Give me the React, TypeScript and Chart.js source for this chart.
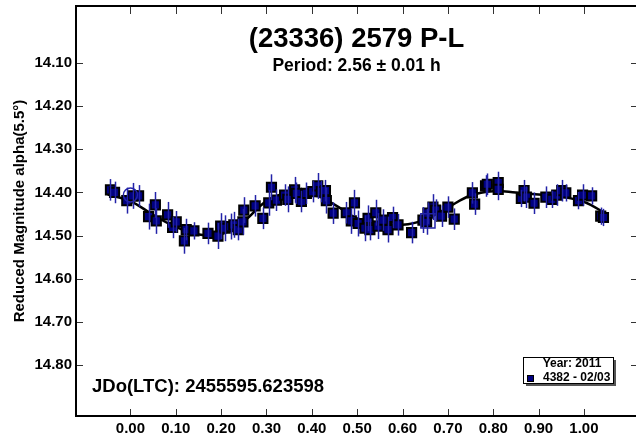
import React, { useEffect, useRef } from "react";
import { Chart, registerables } from "chart.js";

Chart.register(...registerables);

// ---- Data ----
const PHASE = [
  -0.044, -0.035, -0.008, 0.005, 0.018, 0.040, 0.055, 0.057, 0.082, 0.093,
  0.101, 0.119, 0.123, 0.140, 0.171, 0.193, 0.199, 0.209, 0.221, 0.228,
  0.238, 0.248, 0.250, 0.275, 0.292, 0.305, 0.311, 0.322, 0.340, 0.347,
  0.362, 0.366, 0.377, 0.388, 0.402, 0.413, 0.421, 0.430, 0.432, 0.447,
  0.476, 0.487, 0.494, 0.502, 0.517, 0.524, 0.528, 0.541, 0.546, 0.557,
  0.568, 0.578, 0.590, 0.620, 0.645, 0.653, 0.656, 0.667, 0.673, 0.686,
  0.700, 0.714, 0.754, 0.759, 0.783, 0.787, 0.811, 0.811, 0.862, 0.868,
  0.873, 0.890, 0.916, 0.929, 0.940, 0.951, 0.960, 0.988, 0.997, 1.017,
  1.037, 1.043,
];
const MAG = [
  14.394, 14.400, 14.419, 14.408, 14.408, 14.456, 14.429, 14.466, 14.452, 14.481,
  14.468, 14.512, 14.486, 14.489, 14.495, 14.501, 14.478, 14.483, 14.479, 14.475,
  14.486, 14.468, 14.441, 14.431, 14.460, 14.424, 14.388, 14.418, 14.406, 14.416,
  14.394, 14.402, 14.421, 14.402, 14.398, 14.385, 14.398, 14.396, 14.419, 14.448,
  14.447, 14.466, 14.424, 14.472, 14.483, 14.460, 14.486, 14.447, 14.478, 14.464,
  14.486, 14.458, 14.475, 14.493, 14.464, 14.468, 14.448, 14.434, 14.441, 14.455,
  14.434, 14.462, 14.401, 14.427, 14.385, 14.381, 14.377, 14.393, 14.414, 14.396,
  14.411, 14.425, 14.411, 14.416, 14.406, 14.396, 14.401, 14.419, 14.406, 14.408,
  14.455, 14.458,
];
const ERR = [
  0.025, 0.025, 0.030, 0.030, 0.025, 0.030, 0.030, 0.030, 0.030, 0.025,
  0.025, 0.030, 0.025, 0.020, 0.025, 0.030, 0.030, 0.030, 0.030, 0.030,
  0.025, 0.030, 0.030, 0.025, 0.025, 0.030, 0.030, 0.025, 0.025, 0.030,
  0.030, 0.025, 0.025, 0.025, 0.025, 0.030, 0.025, 0.025, 0.030, 0.025,
  0.025, 0.030, 0.030, 0.030, 0.030, 0.030, 0.025, 0.030, 0.030, 0.025,
  0.030, 0.025, 0.025, 0.025, 0.030, 0.030, 0.025, 0.030, 0.025, 0.025,
  0.025, 0.025, 0.025, 0.025, 0.025, 0.025, 0.025, 0.025, 0.020, 0.025,
  0.025, 0.025, 0.025, 0.020, 0.025, 0.025, 0.020, 0.020, 0.025, 0.020,
  0.020, 0.020,
];
const FIT_PHASE = [
  -0.05, 0.0, 0.05, 0.10, 0.15, 0.20, 0.25, 0.30, 0.35, 0.40, 0.45, 0.50,
  0.55, 0.60, 0.65, 0.70, 0.75, 0.80, 0.85, 0.90, 0.95, 1.00, 1.05,
];
const FIT_MAG = [
  14.405, 14.420, 14.452, 14.480, 14.497, 14.497, 14.467, 14.420, 14.400, 14.403,
  14.428, 14.460, 14.470, 14.475, 14.463, 14.435, 14.407, 14.397, 14.400, 14.405,
  14.410, 14.422, 14.450,
];
const MARK_PHASE = [0.0, 0.656];
const MARK_MAG = [14.406, 14.466];
const MARK_STYLE = ["circle", "rect"];

const X_TICKS = [0.0, 0.1, 0.2, 0.3, 0.4, 0.5, 0.6, 0.7, 0.8, 0.9, 1.0];
const Y_TICKS = [14.1, 14.2, 14.3, 14.4, 14.5, 14.6, 14.7, 14.8];

const TITLE = "(23336) 2579 P-L";
const SUBTITLE = "Period: 2.56 ± 0.01 h";
const JD_LABEL = "JDo(LTC): 2455595.623598";
const Y_TITLE = "Reduced Magnitude alpha(5.5°)";
const LEGEND_TITLE = "Year: 2011";
const LEGEND_ITEM = "4382 - 02/03";

const FONT = 'Arial, "Liberation Sans", Helvetica, sans-serif';

const decorPlugin = {
  id: "decor",
  afterDatasetsDraw(chart: any) {
    const { ctx, scales } = chart;
    const xs = scales.x;
    const ys = scales.y;
    ctx.save();
    ctx.strokeStyle = "#2323a8";
    ctx.lineWidth = 1.5;
    for (let i = 0; i < PHASE.length; i++) {
      const px = Math.round(xs.getPixelForValue(PHASE[i])) + 0.5;
      const y1 = ys.getPixelForValue(MAG[i] - ERR[i]);
      const y2 = ys.getPixelForValue(MAG[i] + ERR[i]);
      ctx.beginPath();
      ctx.moveTo(px, y1);
      ctx.lineTo(px, y2);
      ctx.stroke();
    }
    ctx.restore();
  },
  afterDraw(chart: any) {
    const { ctx, chartArea, scales } = chart;
    const { left, right, top, bottom } = chartArea;
    const xs = scales.x;
    const ys = scales.y;
    ctx.save();
    // tick marks
    ctx.strokeStyle = "#333";
    ctx.lineWidth = 1;
    for (const v of X_TICKS) {
      const px = Math.round(xs.getPixelForValue(v)) + 0.5;
      ctx.beginPath();
      ctx.moveTo(px, bottom);
      ctx.lineTo(px, bottom - 7);
      ctx.moveTo(px, top);
      ctx.lineTo(px, top + 8);
      ctx.stroke();
    }
    for (const v of Y_TICKS) {
      const py = Math.round(ys.getPixelForValue(v)) + 0.5;
      ctx.beginPath();
      ctx.moveTo(left, py);
      ctx.lineTo(left + 7, py);
      ctx.moveTo(right, py);
      ctx.lineTo(right - 6, py);
      ctx.stroke();
    }
    // frame
    ctx.strokeStyle = "#000";
    ctx.lineWidth = 2;
    ctx.strokeRect(left, top, right - left, bottom - top);

    // titles
    const cx = (left + right) / 2;
    ctx.fillStyle = "#000";
    ctx.textAlign = "center";
    ctx.textBaseline = "middle";
    ctx.font = `bold 27.5px ${FONT}`;
    ctx.fillText(TITLE, cx, 39);
    ctx.font = `bold 17.5px ${FONT}`;
    ctx.fillText(SUBTITLE, cx, 66);

    // JD label
    ctx.textAlign = "left";
    ctx.font = `bold 18.5px ${FONT}`;
    ctx.fillText(JD_LABEL, 92, 387);

    // y title
    ctx.save();
    ctx.translate(20, (top + bottom) / 2);
    ctx.rotate(-Math.PI / 2);
    ctx.textAlign = "center";
    ctx.font = `bold 15px ${FONT}`;
    ctx.fillText(Y_TITLE, 0, 0);
    ctx.restore();

    // legend box
    const bx = 523, by = 357, bw = 90, bh = 26;
    ctx.fillStyle = "#555";
    ctx.fillRect(bx + 3, by + 3, bw, bh);
    ctx.fillStyle = "#fff";
    ctx.fillRect(bx, by, bw, bh);
    ctx.strokeStyle = "#000";
    ctx.lineWidth = 1;
    ctx.strokeRect(bx + 0.5, by + 0.5, bw, bh);
    ctx.fillStyle = "#000";
    ctx.font = `bold 12px ${FONT}`;
    ctx.textAlign = "center";
    ctx.fillText(LEGEND_TITLE, 572, 364);
    ctx.fillStyle = "#000080";
    ctx.fillRect(527, 375, 7, 7);
    ctx.strokeStyle = "#000";
    ctx.strokeRect(527.5, 375.5, 6, 6);
    ctx.fillStyle = "#000";
    ctx.textAlign = "left";
    ctx.fillText(LEGEND_ITEM, 543, 378);
    ctx.restore();
  },
};

export default function App() {
  const ref = useRef<HTMLCanvasElement | null>(null);

  useEffect(() => {
    if (!ref.current) return;
    const chart = new Chart(ref.current, {
      type: "scatter",
      data: {
        datasets: [
          {
            label: "markers",
            data: MARK_PHASE.map((x, i) => ({ x, y: MARK_MAG[i] })),
            pointStyle: MARK_STYLE as any,
            pointRadius: [7, 10],
            backgroundColor: "rgba(0,0,0,0)",
            borderColor: "#2323a8",
            borderWidth: 1.5,
            order: 0,
          } as any,
          {
            label: "4382 - 02/03",
            data: PHASE.map((x, i) => ({ x, y: MAG[i] })),
            pointStyle: "rect",
            pointRadius: 6.5,
            backgroundColor: "#000080",
            borderColor: "#000",
            borderWidth: 2,
            order: 1,
          },
          {
            label: "fit",
            type: "line",
            data: FIT_PHASE.map((x, i) => ({ x, y: FIT_MAG[i] })),
            borderColor: "#000",
            borderWidth: 2.5,
            pointRadius: 0,
            tension: 0.4,
            fill: false,
            order: 2,
          } as any,
        ],
      },
      options: {
        responsive: false,
        animation: false,
        devicePixelRatio: 1,
        layout: { autoPadding: false, padding: { top: 6, right: 3, left: 0, bottom: 0 } },
        plugins: { legend: { display: false }, tooltip: { enabled: false }, title: { display: false } },
        scales: {
          x: {
            type: "linear",
            min: -0.12,
            max: 1.117,
            grid: { display: false, drawTicks: false },
            border: { display: false },
            afterBuildTicks: (s: any) => {
              s.ticks = X_TICKS.map((v) => ({ value: v }));
            },
            afterFit: (s: any) => {
              s.height = 24;
              s.paddingLeft = 0;
              s.paddingRight = 0;
            },
            ticks: {
              autoSkip: false,
              maxRotation: 0,
              padding: 4,
              color: "#000",
              font: { family: FONT, size: 15, weight: "bold" },
              callback: (v: any) => Number(v).toFixed(2),
            },
          },
          y: {
            type: "linear",
            reverse: true,
            min: 13.968,
            max: 14.918,
            grid: { display: false, drawTicks: false },
            border: { display: false },
            afterBuildTicks: (s: any) => {
              s.ticks = Y_TICKS.map((v) => ({ value: v }));
            },
            afterFit: (s: any) => {
              s.width = 76;
              s.paddingTop = 0;
              s.paddingBottom = 0;
            },
            ticks: {
              autoSkip: false,
              padding: 4,
              color: "#000",
              font: { family: FONT, size: 15, weight: "bold" },
              callback: (v: any) => Number(v).toFixed(2),
            },
          },
        },
      },
      plugins: [decorPlugin],
    });
    return () => chart.destroy();
  }, []);

  return (
    <div
      style={{
        position: "fixed",
        left: 0,
        top: 0,
        width: 636,
        height: 440,
        overflow: "hidden",
        background: "#fff",
      }}
    >
      <canvas ref={ref} width={640} height={440} style={{ display: "block", width: 640, height: 440 }} />
    </div>
  );
}
